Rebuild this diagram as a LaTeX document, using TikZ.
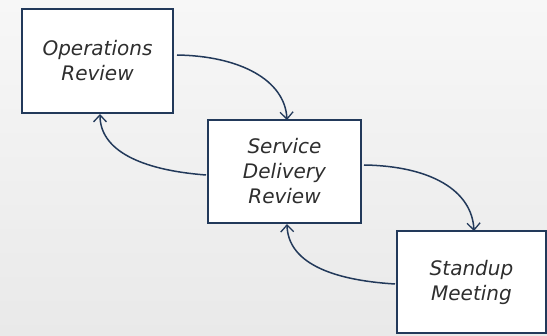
\documentclass[tikz,border=0pt]{standalone}
\usepackage{fontspec}
\setmainfont{DejaVu Sans}
\usetikzlibrary{arrows.meta}
\definecolor{navy}{HTML}{22395A}
\definecolor{txt}{HTML}{2E2E2E}
\definecolor{bgA}{HTML}{E9E9E9}
\definecolor{bgB}{HTML}{F7F7F7}
\tikzset{
  procbox/.style={draw=navy, line width=2.2pt, fill=white, text=txt, align=center,
    font=\itshape\fontsize{20}{25}\selectfont, inner sep=0pt},
  flow/.style={draw=navy, line width=1.5pt, -{Straight Barb[length=7pt,width=13pt,line width=1.3pt]}},
}
\begin{document}
\begin{tikzpicture}[x=1pt,y=-1pt]
\shade[top color=bgB, bottom color=bgA] (0,0) rectangle (547,336);
\useasboundingbox (0,0) rectangle (547,336);
\node[procbox, minimum width=151pt, minimum height=104pt] (ops) at (97.5,61) {Operations\\Review};
\node[procbox, minimum width=153pt, minimum height=103pt] (sdr) at (284.5,171.5) {Service\\Delivery\\Review};
\node[procbox, minimum width=149pt, minimum height=102pt] (stand) at (471.5,282) {Standup\\Meeting};
\coordinate (a1) at (177,55);
\coordinate (a2) at (287,120);
\coordinate (b1) at (206,175);
\coordinate (b2) at (100,114);
\coordinate (c1) at (364,165);
\coordinate (c2) at (474,231);
\coordinate (d1) at (395,284);
\coordinate (d2) at (287,224);
\draw[flow] (a1) .. controls (240,56) and (285,80) .. (a2);
\draw[flow] (b1) .. controls (140,170) and (100,150) .. (b2);
\draw[flow] (c1) .. controls (430,166) and (472,190) .. (c2);
\draw[flow] (d1) .. controls (330,280) and (288,262) .. (d2);
\end{tikzpicture}
\end{document}
